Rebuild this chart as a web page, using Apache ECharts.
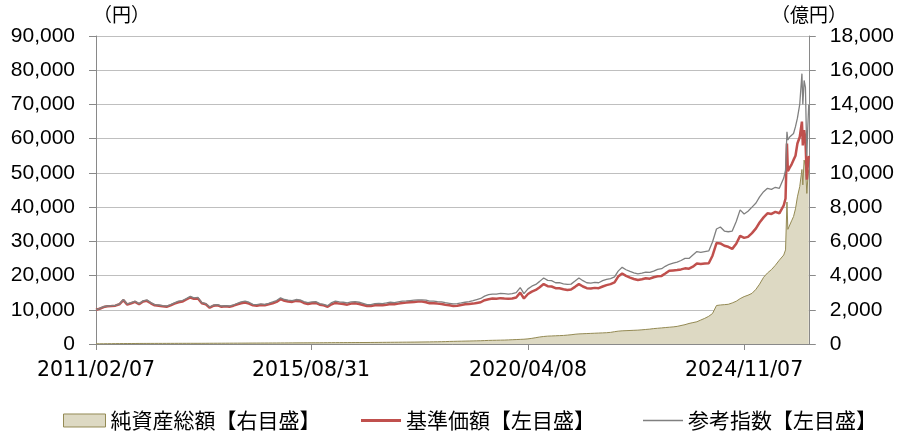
<!DOCTYPE html>
<html><head><meta charset="utf-8">
<script src="https://cdn.jsdelivr.net/npm/echarts@6/dist/echarts.min.js"></script>
<style>html,body{margin:0;padding:0;background:#fff}#c{width:897px;height:441px}</style>
</head><body><div id="c"></div>
<script>
const dates = [
'2011-02-07','2011-03-07','2011-04-07','2011-05-07','2011-06-07','2011-07-07','2011-08-07','2011-09-07','2011-10-07','2011-11-07','2011-12-07',
'2012-01-07','2012-02-07','2012-03-07','2012-04-07','2012-05-07','2012-06-07','2012-07-07','2012-08-07','2012-09-07','2012-10-07','2012-11-07','2012-12-07',
'2013-01-07','2013-02-07','2013-03-07','2013-04-07','2013-05-07','2013-06-07','2013-07-07','2013-08-07','2013-09-07','2013-10-07','2013-11-07','2013-12-07',
'2014-01-07','2014-02-07','2014-03-07','2014-04-07','2014-05-07','2014-06-07','2014-07-07','2014-08-07','2014-09-07','2014-10-07','2014-11-07','2014-12-07',
'2015-01-07','2015-02-07','2015-03-07','2015-04-07','2015-05-07','2015-06-07','2015-07-07','2015-08-07','2015-09-07','2015-10-07','2015-11-07','2015-12-07',
'2016-01-07','2016-02-07','2016-03-07','2016-04-07','2016-05-07','2016-06-07','2016-07-07','2016-08-07','2016-09-07','2016-10-07','2016-11-07','2016-12-07',
'2017-01-07','2017-02-07','2017-03-07','2017-04-07','2017-05-07','2017-06-07','2017-07-07','2017-08-07','2017-09-07','2017-10-07','2017-11-07','2017-12-07',
'2018-01-07','2018-02-07','2018-03-07','2018-04-07','2018-05-07','2018-06-07','2018-07-07','2018-08-07','2018-09-07','2018-10-07','2018-11-07','2018-12-07',
'2019-01-07','2019-02-07','2019-03-07','2019-04-07','2019-05-07','2019-06-07','2019-07-07','2019-08-07','2019-09-07','2019-10-07','2019-11-07','2019-12-07',
'2020-01-07','2020-02-07','2020-03-07','2020-04-07','2020-05-07','2020-06-07','2020-07-07','2020-08-07','2020-09-07','2020-10-07','2020-11-07','2020-12-07',
'2021-01-07','2021-02-07','2021-03-07','2021-04-07','2021-05-07','2021-06-07','2021-07-07','2021-08-07','2021-09-07','2021-10-07','2021-11-07','2021-12-07',
'2022-01-07','2022-02-07','2022-03-07','2022-04-07','2022-05-07','2022-06-07','2022-07-07','2022-08-07','2022-09-07','2022-10-07','2022-11-07','2022-12-07',
'2023-01-07','2023-02-07','2023-03-07','2023-04-07','2023-05-07','2023-06-07','2023-07-07','2023-08-07','2023-09-07','2023-10-07','2023-11-07','2023-12-07',
'2024-01-07','2024-02-07','2024-03-07','2024-04-07','2024-05-07','2024-06-07','2024-07-07','2024-08-07','2024-09-07','2024-10-07','2024-11-07','2024-12-07',
'2025-01-07','2025-02-07','2025-03-07','2025-04-07','2025-05-07','2025-06-07','2025-07-07','2025-08-07',
'2025-09-10','2025-09-24','2025-10-05','2025-10-12','2025-10-26','2025-11-10','2025-11-25','2025-12-10','2025-12-25',
'2026-01-12','2026-01-29','2026-02-05','2026-02-15','2026-02-25','2026-03-08','2026-03-15','2026-03-23'
];
// 基準価額（円）
const navValues = [
10000,10300,10800,11000,11100,11200,11600,12800,11500,11900,12300,
11600,12400,12600,11900,11300,11200,11000,10900,11300,11800,12200,12400,
13000,13600,13200,13300,11900,11600,10600,11200,11300,10900,11000,10900,
11200,11600,11900,12100,11800,11300,11200,11400,11300,11600,11900,12300,
13100,12600,12400,12300,12600,12500,12000,11700,11900,12000,11500,11300,
10900,11600,12000,11800,11700,11500,11800,11900,11700,11400,11100,11100,
11300,11400,11300,11500,11700,11600,11800,12000,12100,12200,12300,12400,
12400,12200,11900,11900,11800,11700,11500,11300,11100,11200,11400,11600,
11700,11800,12000,12200,12800,13100,13300,13200,13400,13300,13200,13300,
13600,15000,13300,14600,15300,15800,16600,17500,16900,16800,16300,16300,
16000,15800,15900,16700,17500,16800,16300,16200,16400,16300,16800,17200,
17500,18000,19700,20600,19900,19400,19000,18700,18900,19200,19100,19500,
19800,19900,20600,21400,21500,21600,21800,22100,22000,22600,23500,23400,
23500,23600,25800,29500,29400,28700,28400,27800,29300,31600,31000,31300,
32400,33800,35500,37000,38200,38000,38600,38200,
40500,42500,58600,50500,51500,52500,53800,55000,58600,
60500,65000,58000,62500,60000,48000,52000,55000
];
// 参考指数（円換算）
const refValues = [
10000,10400,10900,11100,11200,11300,11700,13000,11700,12100,12500,
11800,12600,12900,12100,11500,11400,11200,11100,11500,12000,12500,12700,
13300,13900,13500,13600,12100,11800,10800,11400,11500,11100,11200,11100,
11400,11900,12300,12500,12200,11600,11500,11700,11600,11900,12300,12700,
13500,13000,12800,12700,13000,12900,12400,12100,12300,12400,11800,11600,
11200,12100,12500,12300,12200,12000,12300,12400,12200,11900,11500,11500,
11800,11900,11800,12000,12200,12100,12300,12500,12600,12700,12800,12900,
12900,12800,12500,12500,12400,12300,12100,11900,11700,11800,12000,12200,
12400,12700,13000,13300,14000,14400,14600,14600,14800,14700,14600,14700,
15000,16500,14700,16100,16900,17400,18300,19300,18600,18500,17900,17900,
17600,17400,17500,18400,19300,18500,17900,17800,18000,17900,18500,18900,
19100,19600,21300,22400,21700,21200,20800,20500,20700,21000,20900,21300,
21800,22000,22700,23300,23600,23900,24400,25000,25000,26000,27000,26800,
27000,27200,29800,33600,34200,33000,32800,33000,35800,39200,38000,38800,
40000,41200,43000,44500,45500,45200,45800,45500,
48500,50800,62000,59600,60500,61000,61500,63500,66000,
70000,79000,70000,77000,75000,55000,63000,70000
];
// 純資産総額（億円）
const aumValues = [
10,12,15,18,20,22,25,28,28,30,30,
32,33,34,35,35,36,36,37,38,38,39,40,
40,41,40,40,41,42,43,44,45,46,47,48,
49,50,51,52,53,54,55,56,57,58,59,60,
62,63,64,65,66,67,68,69,70,71,72,74,
76,78,80,81,82,83,84,85,86,87,88,90,
92,94,96,98,100,102,104,106,108,110,112,115,
118,121,124,127,130,135,140,150,155,160,165,170,
175,180,185,190,200,210,215,220,225,230,240,250,
260,270,280,300,330,370,410,440,460,470,480,490,
500,520,540,570,590,600,610,620,630,640,650,660,
680,720,750,770,780,790,800,810,830,850,870,900,
920,940,960,980,1000,1030,1080,1130,1200,1250,1300,1400,
1500,1620,1780,2250,2280,2300,2320,2400,2500,2650,2770,2850,
2960,3200,3500,3900,4150,4350,4600,4900,
5200,5500,8300,6700,6800,7200,7450,7900,8600,
9200,10200,9300,10750,10400,8800,9600,10200
];
const xTickDates = ['2011-02-07','2015-08-31','2020-04-08','2024-11-07'];
const xStart = '2011-02-07', xEnd = '2026-03-23';
const leftTicks = {min:0, max:90000, interval:10000};
const rightTicks = {min:0, max:18000, interval:2000};
const seriesNames = ['純資産総額【右目盛】','基準価額【左目盛】','参考指数【左目盛】'];

function ts(s){ const p=s.split('-').map(Number); return Date.UTC(p[0],p[1]-1,p[2]); }
function pair(vals){ return dates.map((d,i)=>[ts(d), vals[i]]); }
function comma(v){ return String(v).replace(/\B(?=(\d{3})+(?!\d))/g, ','); }
function pad(n){ return (n<10?'0':'')+n; }
function fmtDate(v){ const d=new Date(v); return d.getUTCFullYear()+'/'+pad(d.getUTCMonth()+1)+'/'+pad(d.getUTCDate()); }

const chart = echarts.init(document.getElementById('c'), null, {renderer:'canvas'});
const axisGray = '#898989';
const numFont = {fontFamily:'Liberation Sans, Arial, sans-serif', fontSize:21, color:'#000'};
const jpFont = 'Noto Sans CJK JP';
const xTickVals = xTickDates.map(ts);
const legendText = {fontFamily:jpFont, fontSize:21, color:'#000'};
chart.setOption({
  animation:false,
  grid:{left:96, right:85, top:36, bottom:97},
  xAxis:{
    type:'value', min:ts(xStart), max:ts(xEnd),
    axisLine:{show:true, lineStyle:{color:axisGray, width:1}},
    axisTick:{show:true, length:6, lineStyle:{color:axisGray}, customValues:xTickVals},
    splitLine:{show:false},
    axisLabel:{
      customValues:xTickVals, margin:16, hideOverlap:false,
      fontFamily:'DejaVu Sans, sans-serif', fontSize:20.5, color:'#000',
      formatter:fmtDate
    }
  },
  yAxis:[
    {type:'value', position:'left', min:leftTicks.min, max:leftTicks.max, interval:leftTicks.interval,
     axisLine:{show:true, lineStyle:{color:axisGray}},
     axisTick:{show:true, length:7, lineStyle:{color:axisGray}},
     splitLine:{show:true, lineStyle:{color:'#BFBFBF', width:1.2}},
     axisLabel:Object.assign({margin:21, formatter:comma}, numFont)},
    {type:'value', position:'right', min:rightTicks.min, max:rightTicks.max, interval:rightTicks.interval,
     axisLine:{show:true, lineStyle:{color:axisGray}},
     axisTick:{show:true, length:7, lineStyle:{color:axisGray}},
     splitLine:{show:false},
     axisLabel:Object.assign({margin:21, formatter:comma}, numFont)}
  ],
  legend:[
    {data:[{name:seriesNames[0], icon:'rect', itemStyle:{color:'#DDD9C3', borderColor:'#948A54', borderWidth:1}}],
     left:58, top:405, itemWidth:42, itemHeight:13, itemGap:5, textStyle:legendText},
    {data:[{name:seriesNames[1], icon:'rect', itemStyle:{color:'#C0504D', borderWidth:0}}],
     left:356, top:405, itemWidth:40, itemHeight:3, itemGap:5, textStyle:legendText},
    {data:[{name:seriesNames[2], icon:'rect', itemStyle:{color:'#808080', borderWidth:0}}],
     left:638, top:405, itemWidth:40, itemHeight:1.5, itemGap:5, textStyle:legendText}
  ],
  graphic:[
    {type:'text', left:93, top:5, style:{text:'（円）', font:'19px "Noto Sans CJK JP"', fill:'#000'}},
    {type:'text', left:771, top:5, style:{text:'（億円）', font:'19px "Noto Sans CJK JP"', fill:'#000'}}
  ],
  series:[
    {name:seriesNames[0], type:'line', yAxisIndex:1, data:pair(aumValues), showSymbol:false, symbol:'none',
     itemStyle:{color:'#DDD9C3'}, lineStyle:{color:'#948A54', width:1}, areaStyle:{color:'#DDD9C3', opacity:1}, z:1},
    {name:seriesNames[1], type:'line', yAxisIndex:0, data:pair(navValues), showSymbol:false, symbol:'none',
     itemStyle:{color:'#C0504D'}, lineStyle:{color:'#C0504D', width:2.5}, z:2},
    {name:seriesNames[2], type:'line', yAxisIndex:0, data:pair(refValues), showSymbol:false, symbol:'none',
     itemStyle:{color:'#808080'}, lineStyle:{color:'#808080', width:1.3}, z:3}
  ]
});
</script></body></html>
